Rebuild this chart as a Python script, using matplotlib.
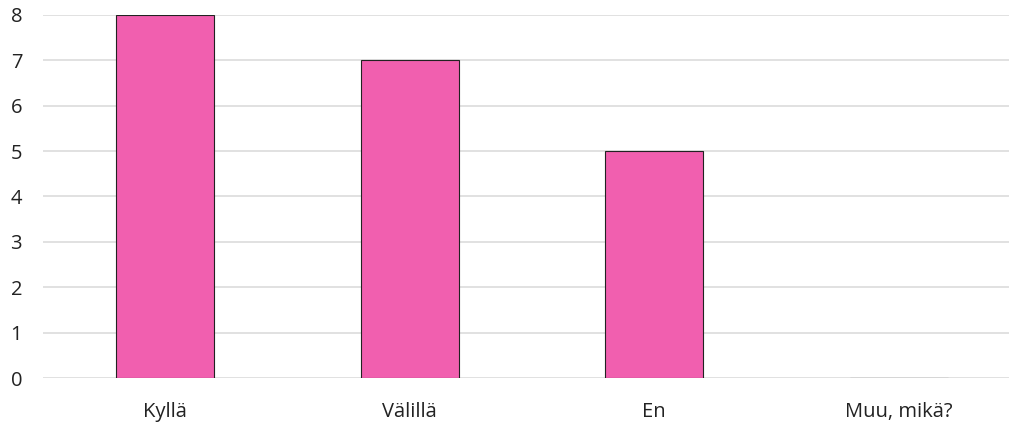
import matplotlib
matplotlib.use("Agg")
import matplotlib.pyplot as plt

categories = ["Kyllä", "Välillä", "En", "Muu, mikä?"]
counts = [8, 7, 5, 0]
y_ticks = [0, 1, 2, 3, 4, 5, 6, 7, 8]

plt.rcParams['font.family'] = ['Open Sans', 'DejaVu Sans']

fig = plt.figure(figsize=(10.09, 4.23), dpi=100)
# category spacing ~244.5 px, the plot area runs slightly past the right edge
ax = fig.add_axes([43 / 1009, 45 / 423, 978 / 1009, 363 / 423])

x = range(len(categories))
ax.bar(x, counts, width=0.4, color="#F15FAF", edgecolor="#222222",
       linewidth=0.8, zorder=3)

ax.set_xlim(-0.5, len(categories) - 0.5)
ax.set_ylim(0, 8)
ax.set_yticks(y_ticks)
ax.set_xticks(list(x))
ax.set_xticklabels(categories)

ax.grid(axis='y', color="#D9D9D9", linewidth=1.1, zorder=0)
for s in ax.spines.values():
    s.set_visible(False)
ax.tick_params(axis='both', length=0, labelsize=14.5, colors="#222222")
ax.tick_params(axis='y', pad=15)
ax.tick_params(axis='x', pad=17)

fig.savefig("out.png", dpi=100)
